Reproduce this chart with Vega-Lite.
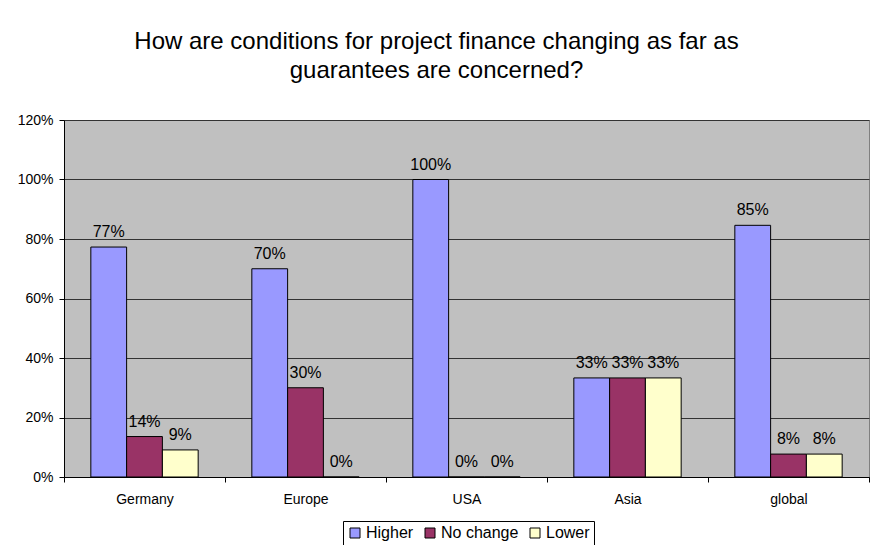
{
  "$schema": "https://vega.github.io/schema/vega-lite/v6.json",
  "autosize": {"type": "none"},
  "width": 805,
  "height": 357,
  "padding": {"left": 64, "top": 120, "right": 1, "bottom": 68},
  "background": "white",
  "title": {
    "text": ["How are conditions for project finance changing as far as", "guarantees are concerned?"],
    "font": "Liberation Sans",
    "fontSize": 24,
    "fontWeight": "normal",
    "color": "black",
    "lineHeight": 29,
    "anchor": "middle",
    "dx": -30,
    "offset": 30
  },
  "data": {
    "values": [
      {"region": "Germany", "answer": "Higher", "share": 0.773},
      {"region": "Germany", "answer": "No change", "share": 0.136},
      {"region": "Germany", "answer": "Lower", "share": 0.091},
      {"region": "Europe", "answer": "Higher", "share": 0.70},
      {"region": "Europe", "answer": "No change", "share": 0.30},
      {"region": "Europe", "answer": "Lower", "share": 0.0},
      {"region": "USA", "answer": "Higher", "share": 1.0},
      {"region": "USA", "answer": "No change", "share": 0.0},
      {"region": "USA", "answer": "Lower", "share": 0.0},
      {"region": "Asia", "answer": "Higher", "share": 0.333},
      {"region": "Asia", "answer": "No change", "share": 0.333},
      {"region": "Asia", "answer": "Lower", "share": 0.333},
      {"region": "global", "answer": "Higher", "share": 0.846},
      {"region": "global", "answer": "No change", "share": 0.077},
      {"region": "global", "answer": "Lower", "share": 0.077}
    ]
  },
  "encoding": {
    "x": {
      "field": "region",
      "type": "nominal",
      "sort": ["Germany", "Europe", "USA", "Asia", "global"],
      "scale": {"paddingInner": 0, "paddingOuter": 0},
      "axis": {
        "title": null,
        "labelAngle": 0,
        "labelFont": "Liberation Sans",
        "labelFontSize": 14,
        "labelColor": "black",
        "labelPadding": 10,
        "tickSize": 5,
        "tickColor": "black",
        "tickBand": "extent",
        "domainColor": "black",
        "domainWidth": 1,
        "grid": false
      }
    },
    "xOffset": {
      "field": "answer",
      "type": "nominal",
      "sort": ["Higher", "No change", "Lower"],
      "scale": {"paddingInner": 0, "paddingOuter": 0.75}
    },
    "y": {
      "field": "share",
      "type": "quantitative",
      "scale": {"domain": [0, 1.2], "nice": false},
      "axis": {
        "title": null,
        "format": ".0%",
        "values": [0, 0.2, 0.4, 0.6, 0.8, 1.0, 1.2],
        "labelFont": "Liberation Sans",
        "labelFontSize": 14,
        "labelColor": "black",
        "labelPadding": 6,
        "tickSize": 5,
        "tickColor": "black",
        "domainColor": "black",
        "grid": true,
        "gridColor": "#333333",
        "gridWidth": 1
      }
    }
  },
  "layer": [
    {
      "mark": {"type": "bar", "stroke": "black", "strokeWidth": 1},
      "encoding": {
        "color": {
          "field": "answer",
          "type": "nominal",
          "scale": {
            "domain": ["Higher", "No change", "Lower"],
            "range": ["#9999FF", "#993366", "#FFFFCC"]
          },
          "legend": {
            "title": null,
            "orient": "none",
            "legendX": 279,
            "legendY": 401,
            "direction": "horizontal",
            "strokeColor": "black",
            "fillColor": "white",
            "padding": 4,
            "symbolType": "square",
            "symbolSize": 100,
            "symbolStrokeColor": "black",
            "symbolStrokeWidth": 1,
            "symbolOpacity": 1,
            "labelFont": "Liberation Sans",
            "labelFontSize": 16,
            "labelColor": "black",
            "labelOffset": 3,
            "columnPadding": 8
          }
        }
      }
    },
    {
      "mark": {
        "type": "text",
        "font": "Liberation Sans",
        "fontSize": 16,
        "color": "black",
        "baseline": "alphabetic",
        "dy": -10
      },
      "encoding": {
        "text": {"field": "share", "type": "quantitative", "format": ".0%"}
      }
    }
  ],
  "config": {
    "view": {"fill": "#C0C0C0", "stroke": "#808080", "strokeWidth": 1}
  }
}
